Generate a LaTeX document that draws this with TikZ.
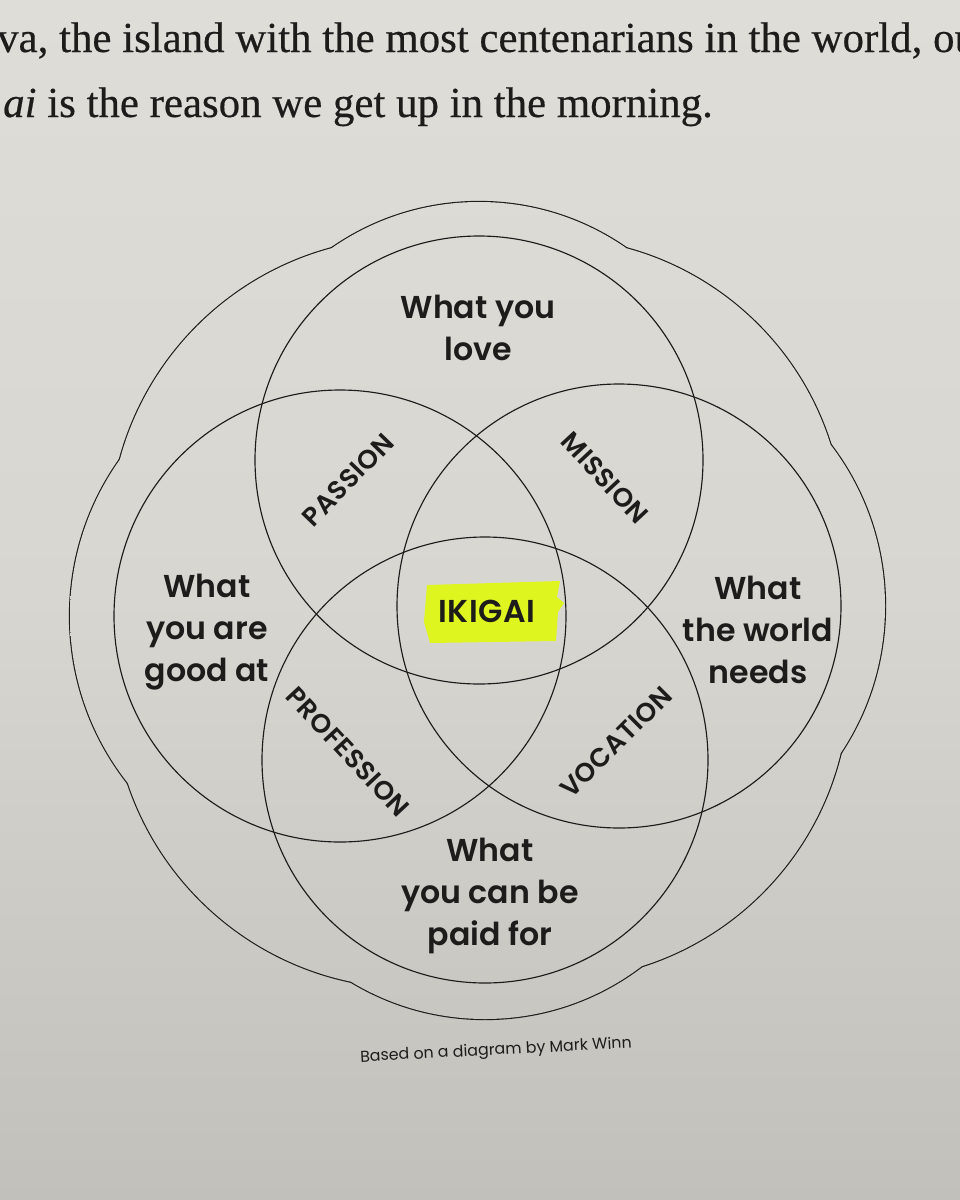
\documentclass[tikz,border=0pt]{standalone}
\usepackage{fontspec}
\setmainfont{Liberation Serif}[FakeBold=0.4]
\newfontfamily\venn{Poppins SemiBold}
\newfontfamily\venncaps{Poppins SemiBold}[LetterSpace=2]
\newfontfamily\vennlight{Poppins}
\usetikzlibrary{calc}

\definecolor{paper}{RGB}{216,214,209}
\definecolor{papertop}{RGB}{223,221,216}
\definecolor{paperlow}{RGB}{194,192,187}
\definecolor{ink}{RGB}{30,28,27}
\definecolor{marker}{RGB}{222,245,32}

\tikzset{
  page/.style={top color=papertop, bottom color=paperlow, middle color=paper},
  ring/.style={draw=ink, line width=0.65pt},
  rim/.style={draw=ink, line width=1.3pt},
  region/.style={font=\venn\fontsize{18}{24}\selectfont, text=ink, align=center},
  overlap/.style={font=\venncaps\fontsize{15}{17}\selectfont, text=ink},
  bodyline/.style={anchor=base west, font=\fontsize{24.4}{28}\selectfont, text=ink},
}

\begin{document}
\begin{tikzpicture}[x=0.02cm, y=-0.02cm]
\shade[page] (0,0) rectangle (960,1200);
\useasboundingbox (0,0) rectangle (960,1200);
\clip (0,0) rectangle (960,1200);

% running text of the page
\node[bodyline] (line1) at (-9,52) {va, the island with the most centenarians in the world, ou};
\node[bodyline] (line2) at (-3,117) {\textit{ai} is the reason we get up in the morning.};

% centres of the four circles
\coordinate (love) at (479,460);
\coordinate (good) at (340,616);
\coordinate (needs) at (619,606);
\coordinate (paid) at (485,760);
\coordinate (lg) at ($(love)!0.5!(good)$);
\coordinate (ln) at ($(love)!0.5!(needs)$);
\coordinate (gp) at ($(good)!0.5!(paid)$);
\coordinate (np) at ($(needs)!0.5!(paid)$);

% scalloped outline: union of eight circles
\foreach \c/\r in {love/258, good/270, needs/266, paid/259, lg/300, ln/295, gp/300, np/297}
  \draw[rim] (\c) circle [radius=\r];
\begin{scope}
  \clip (love) circle [radius=258] (good) circle [radius=270]
        (needs) circle [radius=266] (paid) circle [radius=259]
        (lg) circle [radius=300] (ln) circle [radius=295]
        (gp) circle [radius=300] (np) circle [radius=297];
  \shade[page] (0,0) rectangle (960,1200);
\end{scope}

% the four circles
\draw[ring] (love) circle [radius=224];
\draw[ring] (good) circle [radius=226];
\draw[ring] (needs) circle [radius=222];
\draw[ring] (paid) circle [radius=223];

% highlighter under the centre
\fill[marker] (427,585) -- (560,581) -- (557,597) -- (564,603) -- (558,612)
  -- (556,641) -- (430,643) -- (424,622) -- cycle;

\node[region] (lovetxt) at (478,328) {What you\\love};
\node[region] (goodtxt) at (207,632) {What\\you are\\good at};
\node[region] (needstxt) at (758,630) {What\\the world\\needs};
\node[region] (paidtxt) at (490,896) {What\\you can be\\paid for};

\node[overlap, rotate=46] (passion) at (348,480) {PASSION};
\node[overlap, rotate=-47] (mission) at (605,478) {MISSION};
\node[overlap, rotate=-47] (profession) at (348,752) {PROFESSION};
\node[overlap, rotate=45] (vocation) at (616,742) {VOCATION};
\node[overlap, font=\venncaps\fontsize{18}{20}\selectfont] (ikigai) at (487,611) {IKIGAI};

\node[font=\vennlight\fontsize{9}{11}\selectfont, text=ink, rotate=3] (credit) at (496,1051) {Based on a diagram by Mark Winn};
\end{tikzpicture}
\end{document}
